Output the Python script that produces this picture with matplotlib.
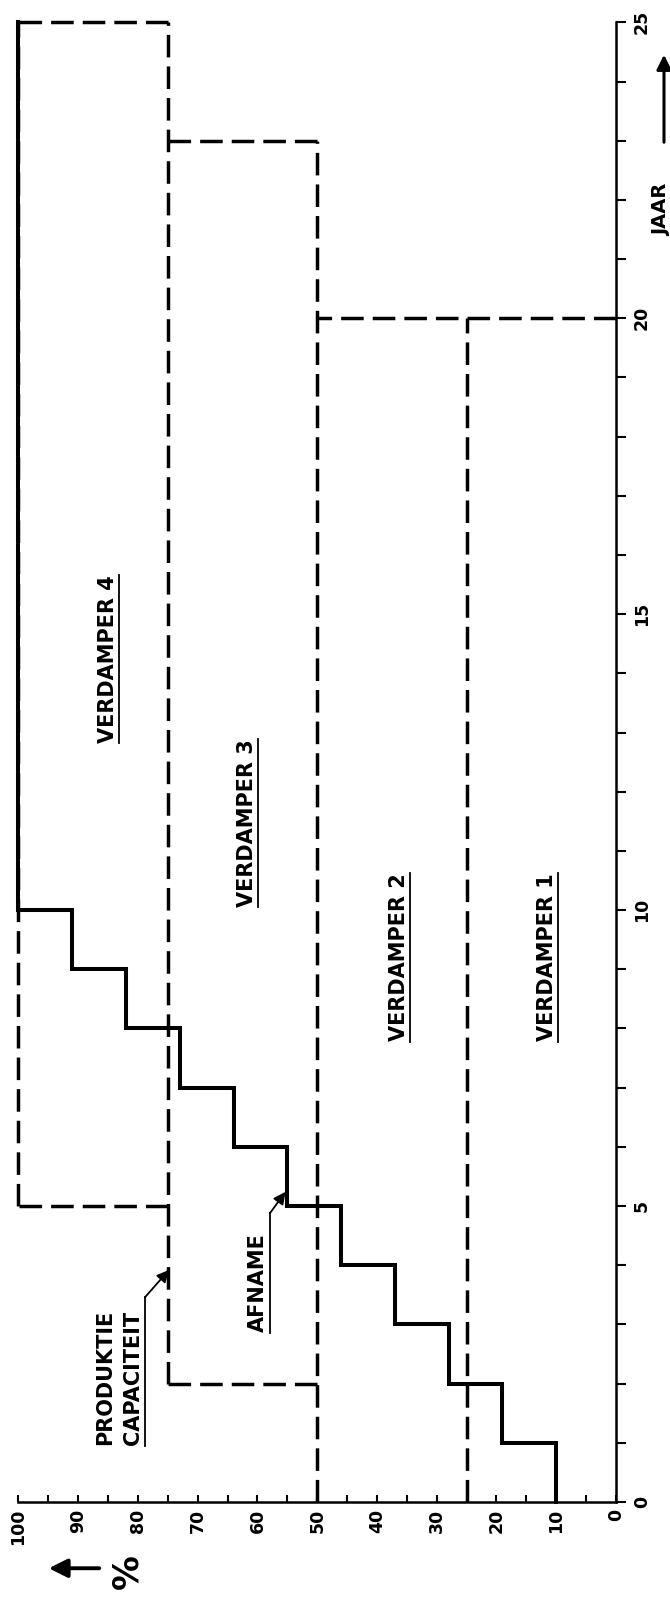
import matplotlib
matplotlib.use("Agg")
import matplotlib.pyplot as plt
from matplotlib.ticker import MultipleLocator

plt.rcParams['font.family'] = ['DejaVu Sans']
plt.rcParams['font.weight'] = 'bold'

# afname (demand) per jaar, in % van de eindcapaciteit
afname_jaar = [0, 1, 2, 3, 4, 5, 6, 7, 8, 9, 10]
afname_pct = [10, 19, 28, 37, 46, 55, 64, 73, 82, 91, 100]
eind_jaar = 25

# produktiecapaciteit: blokken per verdamper
verdampers = ['VERDAMPER 1', 'VERDAMPER 2', 'VERDAMPER 3', 'VERDAMPER 4']
v_start = [0, 0, 2, 5]
v_eind = [20, 20, 23, 25]
v_laag = [0, 25, 50, 75]
v_hoog = [25, 50, 75, 100]

pct_ticks = [0, 10, 20, 30, 40, 50, 60, 70, 80, 90, 100]
jaar_ticks = [0, 5, 10, 15, 20, 25]


def merge(intervals):
    intervals = sorted(intervals)
    out = [list(intervals[0])]
    for a, b in intervals[1:]:
        if a <= out[-1][1]:
            out[-1][1] = max(out[-1][1], b)
        else:
            out.append([a, b])
    return out


def edges():
    vert = {}
    hor = {}
    for s, e, lo, hi in zip(v_start, v_eind, v_laag, v_hoog):
        for p in (lo, hi):
            if p != 0:
                vert.setdefault(p, []).append((s, e))
        for j in (s, e):
            if j != 0:
                hor.setdefault(j, []).append((lo, hi))
    return vert, hor


fig = plt.figure(figsize=(6.7, 15.97), dpi=100)
ax = fig.add_axes([0.0274, 0.0595, 0.892, 0.9265])
ax.set_xlim(100, 0)
ax.set_ylim(0, 25)

dash = (0, (6.5, 2.6))
vert, hor = edges()
for p, iv in vert.items():
    for a, b in merge(iv):
        ax.plot([p, p], [a, b], color='black', lw=2.5, ls=dash, clip_on=False,
                dash_capstyle='butt')
for j, iv in hor.items():
    for a, b in merge(iv):
        ax.plot([a, b], [j, j], color='black', lw=2.5, ls=dash, clip_on=False,
                dash_capstyle='butt')

# afname trap
xs, ys = [], []
jaren = afname_jaar + [eind_jaar]
for i, p in enumerate(afname_pct):
    xs += [p, p]
    ys += [jaren[i], jaren[i + 1]]
ax.plot(xs, ys, color='black', lw=2.9, clip_on=False, solid_joinstyle='miter')

for s in ['top', 'left']:
    ax.spines[s].set_visible(False)
ax.spines['bottom'].set_linewidth(1.8)
ax.spines['right'].set_linewidth(1.8)

ax.set_xticks(pct_ticks)
ax.set_xticklabels([str(t) for t in pct_ticks], rotation=90, fontsize=12.5,
                   fontweight='bold')
ax.xaxis.set_minor_locator(MultipleLocator(5))
ax.tick_params(axis='x', which='both', direction='in', length=5, width=1.5, pad=5)

ax.yaxis.tick_right()
ax.set_yticks(jaar_ticks)
ax.set_yticklabels([str(t) for t in jaar_ticks], rotation=90, fontsize=12.5,
                   fontweight='bold', va='center')
ax.yaxis.set_minor_locator(MultipleLocator(1))
ax.tick_params(axis='y', which='both', direction='out', length=7, width=1.5, pad=5)

# labels verdampers
lab_pct = [11.6, 36.3, 61.8, 85.0]
lab_jaar = [9.2, 9.2, 11.47, 14.24]
for naam, p, j in zip(verdampers, lab_pct, lab_jaar):
    ax.text(p, j, naam, rotation=90, ha='center', va='center', fontsize=15,
            fontweight='bold')
    ax.plot([p - 1.9, p - 1.9], [j - 1.42, j + 1.42], color='black', lw=1.3)

# afname label met pijl
ax.text(59.9, 2.87, 'AFNAME', rotation=90, ha='center', va='bottom', fontsize=15,
        fontweight='bold')
ax.plot([57.9, 57.9], [2.85, 4.88], color='black', lw=1.3)
ax.annotate('', xy=(55.3, 5.24), xytext=(57.9, 4.88),
            arrowprops=dict(arrowstyle='-|>', color='black', lw=1.3,
                            mutation_scale=18, shrinkA=0, shrinkB=0))

# produktie capaciteit label met pijl
ax.text(85.5, 2.1, 'PRODUKTIE', rotation=90, ha='center', va='center', fontsize=15,
        fontweight='bold')
ax.text(80.9, 2.1, 'CAPACITEIT', rotation=90, ha='center', va='center', fontsize=15,
        fontweight='bold')
ax.plot([78.8, 78.8], [0.95, 3.46], color='black', lw=1.3)
ax.annotate('', xy=(74.8, 3.92), xytext=(78.8, 3.46),
            arrowprops=dict(arrowstyle='-|>', color='black', lw=1.3,
                            mutation_scale=18, shrinkA=0, shrinkB=0))

# as-titels
fig.text(0.19, 0.016, '%', rotation=90, ha='center', va='center', fontsize=25,
         fontweight='bold')
fig.add_artist(matplotlib.patches.FancyArrowPatch(
    (102 / 670, 0.018), (46 / 670, 0.018), transform=fig.transFigure,
    arrowstyle='-|>', mutation_scale=28, lw=2.8, color='black'))
fig.text(662 / 670, 1 - 210 / 1597, 'JAAR', rotation=90, ha='center', va='center',
         fontsize=14, fontweight='bold')
fig.add_artist(matplotlib.patches.FancyArrowPatch(
    (664 / 670, 1 - 145 / 1597), (664 / 670, 1 - 52 / 1597), transform=fig.transFigure,
    arrowstyle='-|>', mutation_scale=22, lw=2.2, color='black'))

fig.savefig('out.png', dpi=100)
